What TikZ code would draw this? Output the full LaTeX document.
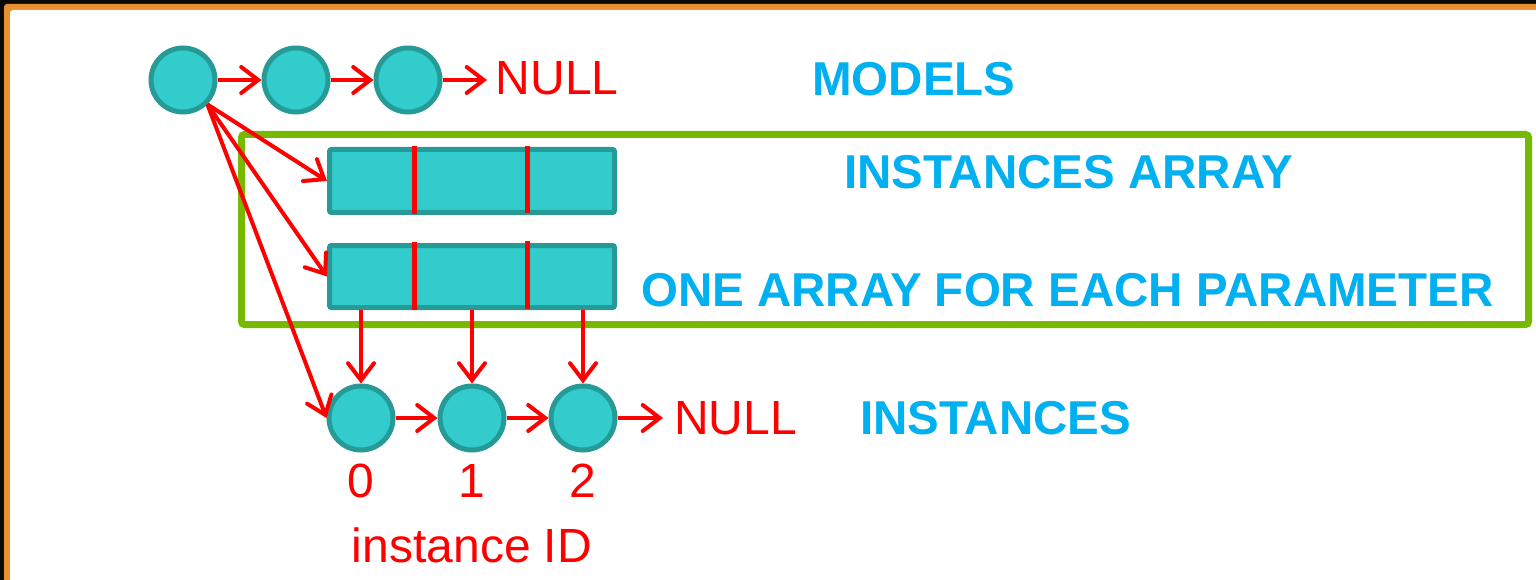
\documentclass[tikz,border=0pt]{standalone}
\usepackage{fontspec}
\setmainfont{Liberation Sans}
\usetikzlibrary{arrows.meta}
\definecolor{tealfill}{HTML}{33CCCC}
\definecolor{tealline}{HTML}{269A97}
\definecolor{ptred}{HTML}{FF0000}
\definecolor{ptblue}{HTML}{00B0F0}
\definecolor{ptgreen}{HTML}{76B900}
\definecolor{ptorange}{HTML}{E8902F}
\definecolor{ptblack}{HTML}{0A0A05}
\tikzset{
  ball/.style={circle, fill=tealfill, draw=tealline, line width=5pt, minimum size=64pt, inner sep=0pt},
  arraybox/.style={rectangle, rounded corners=2pt, fill=tealfill, draw=tealline, line width=5pt, minimum width=285pt, minimum height=63pt, inner sep=0pt},
  divider/.style={draw=ptred, line width=5pt},
  link/.style={draw=ptred, line width=4pt, -{Straight Barb[length=17pt,width=26pt,line cap=round]}},
  redtext/.style={text=ptred, font=\fontsize{48}{58}\selectfont, inner sep=0pt},
  bluetext/.style={text=ptblue, font=\fontsize{47.5}{58}\selectfont\bfseries, inner sep=0pt, anchor=base west},
  nulltext/.style={redtext, anchor=base west, inner ysep=0pt},
}
\begin{document}
\begin{tikzpicture}[x=1pt,y=-1pt]
\useasboundingbox (0,0) rectangle (1536,580);
% frame
\fill[ptblack] (0,0) rectangle (1536,580);
\fill[ptorange, rounded corners=3pt] (4,4) rectangle (1545,590);
\fill[white, rounded corners=3pt] (10,10) rectangle (1545,590);
% green group box
\draw[ptgreen, line width=7pt, rounded corners=3pt] (241.5,134.5) rectangle (1528.5,324.5);
% models list
\node[ball] (m1) at (183,80) {};
\node[ball] (m2) at (296,80) {};
\node[ball] (m3) at (408,80) {};
\node[nulltext, inner xsep=8.5pt] (nullA) at (487,95) {NULL};
\draw[link] (m1) -- (m2);
\draw[link] (m2) -- (m3);
\draw[link] (m3) -- (m3 -| nullA.west);
% arrays
\node[arraybox] (arr1) at (472,181) {};
\node[arraybox, minimum height=62pt] (arr2) at (472,276.5) {};
\draw[divider] (414,146.5) -- (414,214);
\draw[divider] (527,146) -- (527,213);
\draw[divider] (414,241.5) -- (414,309.5);
\draw[divider] (527,241) -- (527,309);
% instances list
\node[ball] (b0) at (361,418) {};
\node[ball] (b1) at (472,418) {};
\node[ball] (b2) at (583,418) {};
\node[nulltext, inner xsep=11pt] (nullB) at (663,434) {NULL};
\draw[link] (b0) -- (b1);
\draw[link] (b1) -- (b2);
\draw[link] (b2) -- (b2 -| nullB.west);
% pointers
\draw[link] (m1.south east) -- (arr1.west);
\draw[link] (m1.south east) -- (arr2.west);
\draw[link] (m1.south east) -- (b0.west);
\draw[link] (arr2.south -| b0) -- (b0.north);
\draw[link] (arr2.south -| b1) -- (b1.north);
\draw[link] (arr2.south -| b2) -- (b2.north);
% labels
\node[bluetext] (lmodels) at (812,96) {MODELS};
\node[bluetext] (linsarr) at (844,189) {INSTANCES ARRAY};
\node[bluetext] (lparam) at (641,306) {ONE ARRAY FOR EACH PARAMETER};
\node[bluetext] (linst) at (860,434) {INSTANCES};
\node[redtext, anchor=base] (id0) at (361,497) {0};
\node[redtext, anchor=base] (id1) at (472,497) {1};
\node[redtext, anchor=base] (id2) at (583,497) {2};
\node[redtext, anchor=base] (lid) at (472,562) {instance ID};
\end{tikzpicture}
\end{document}
